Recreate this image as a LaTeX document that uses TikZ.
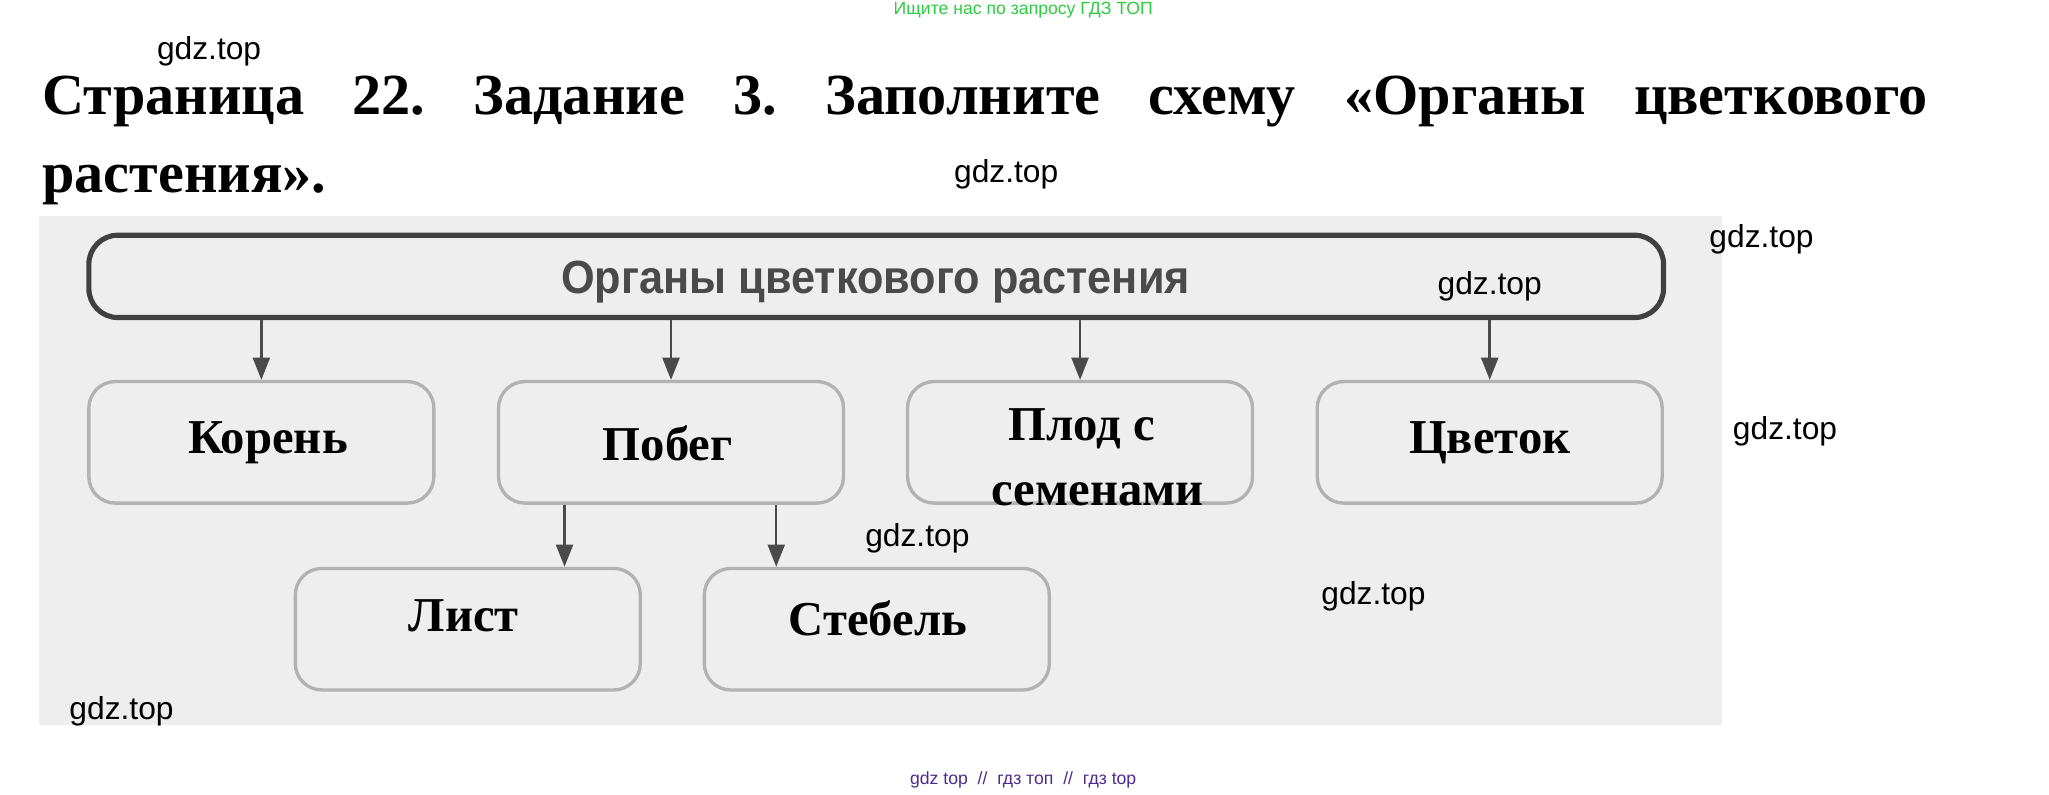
\documentclass[tikz,border=0pt]{standalone}
\usepackage{fontspec}
\setmainfont{Liberation Serif}
\newfontfamily\arialf{Liberation Sans}
\usetikzlibrary{arrows.meta}
\frenchspacing
\definecolor{bgscan}{HTML}{EEEEEE}
\definecolor{topedge}{HTML}{404040}
\definecolor{boxedge}{HTML}{B2B2B2}
\definecolor{arrcol}{HTML}{4A4A4A}
\definecolor{toptext}{HTML}{4A4A4A}
\definecolor{greentxt}{HTML}{2ECC40}
\definecolor{purpletxt}{HTML}{4B2C8C}
\tikzset{
  wm/.style={font=\arialf\fontsize{9pt}{10pt}\selectfont, text=black, inner sep=0pt},
  organbox/.style={draw=boxedge, line width=0.95pt, fill=bgscan, rounded corners=7.5pt,
    minimum width=264*0.3705pt, minimum height=93*0.3705pt, inner sep=0pt},
  organtext/.style={font=\bfseries\fontsize{13.8pt}{18.5pt}\selectfont, inner sep=0pt, align=center},
  arr/.style={draw=arrcol, line width=0.7pt, -{Triangle[length=6.3pt,width=4.8pt]}},
  titletext/.style={font=\bfseries\fontsize{16.5pt}{20pt}\selectfont, inner sep=0pt, anchor=base west}
}
\begin{document}
\begin{tikzpicture}[x=0.3705pt,y=-0.3705pt]
\useasboundingbox (0,0) rectangle (1568,608);
\fill[white] (0,0) rectangle (1568,608);

% header watermark
\node[font=\arialf\fontsize{5pt}{6pt}\selectfont, text=greentxt, inner sep=0pt] (hdr) at (783,8) {Ищите нас по запросу ГДЗ ТОП};

% title
\node[titletext] (t1) at (32,88) {\makebox[534.6pt][s]{Страница 22. Задание 3. Заполните схему «Органы цветкового}};
\node[titletext] (t2) at (32,147) {растения».};

% scanned background
\fill[bgscan] (30,165) rectangle (1318,555);

% top box
\node[draw=topedge, line width=1.45pt, fill=bgscan, rounded corners=8.2pt,
  minimum width=1205*0.3705pt, minimum height=63*0.3705pt, inner sep=0pt] (top) at (670.5,211.5) {};
\node[font=\arialf\bfseries\fontsize{13.2pt}{15pt}\selectfont, text=toptext, inner sep=0pt] (toplab) at (670,215.5) {\scalebox{0.93}[1]{Органы цветкового растения}};

% second row
\node[organbox] (koren) at (200,338.5) {};
\node[organbox] (pobeg) at (513.5,338.5) {};
\node[organbox] (plod) at (826.5,338.5) {};
\node[organbox] (cvetok) at (1140,338.5) {};
% third row
\node[organbox] (list) at (358,481.5) {};
\node[organbox] (stebel) at (671,481.5) {};

% labels
\node[organtext] (lkoren) at (205,339) {Корень};
\node[organtext] (lpobeg) at (511,339) {Побег};
\node[organtext] (lplod1) at (828,328) {Плод с};
\node[organtext] (lplod2) at (840,378) {семенами};
\node[organtext] (lcvetok) at (1140,339) {Цветок};
\node[organtext] (llist) at (355,471) {Лист};
\node[organtext] (lstebel) at (672,473) {Стебель};

% arrows
\draw[arr] (top.south -| koren.north) -- (koren.north);
\draw[arr] (top.south -| pobeg.north) -- (pobeg.north);
\draw[arr] (top.south -| plod.north) -- (plod.north);
\draw[arr] (top.south -| cvetok.north) -- (cvetok.north);
\coordinate (a1) at (432,0);
\coordinate (a2) at (594,0);
\draw[arr] (pobeg.south -| a1) -- (list.north -| a1);
\draw[arr] (pobeg.south -| a2) -- (stebel.north -| a2);

% watermarks
\node[wm] (w1) at (160,39) {gdz.top};
\node[wm] (w2) at (770,133) {gdz.top};
\node[wm] (w3) at (1348,183) {gdz.top};
\node[wm] (w4) at (1140,219) {gdz.top};
\node[wm] (w5) at (1366,330) {gdz.top};
\node[wm] (w6) at (702,412) {gdz.top};
\node[wm] (w7) at (1051,456) {gdz.top};
\node[wm] (w8) at (93,544) {gdz.top};

% footer
\node[font=\arialf\fontsize{5pt}{6pt}\selectfont, text=purpletxt, inner sep=0pt] (ftr) at (783,597) {gdz top \ // \ гдз топ \ // \ гдз top};
\end{tikzpicture}
\end{document}
